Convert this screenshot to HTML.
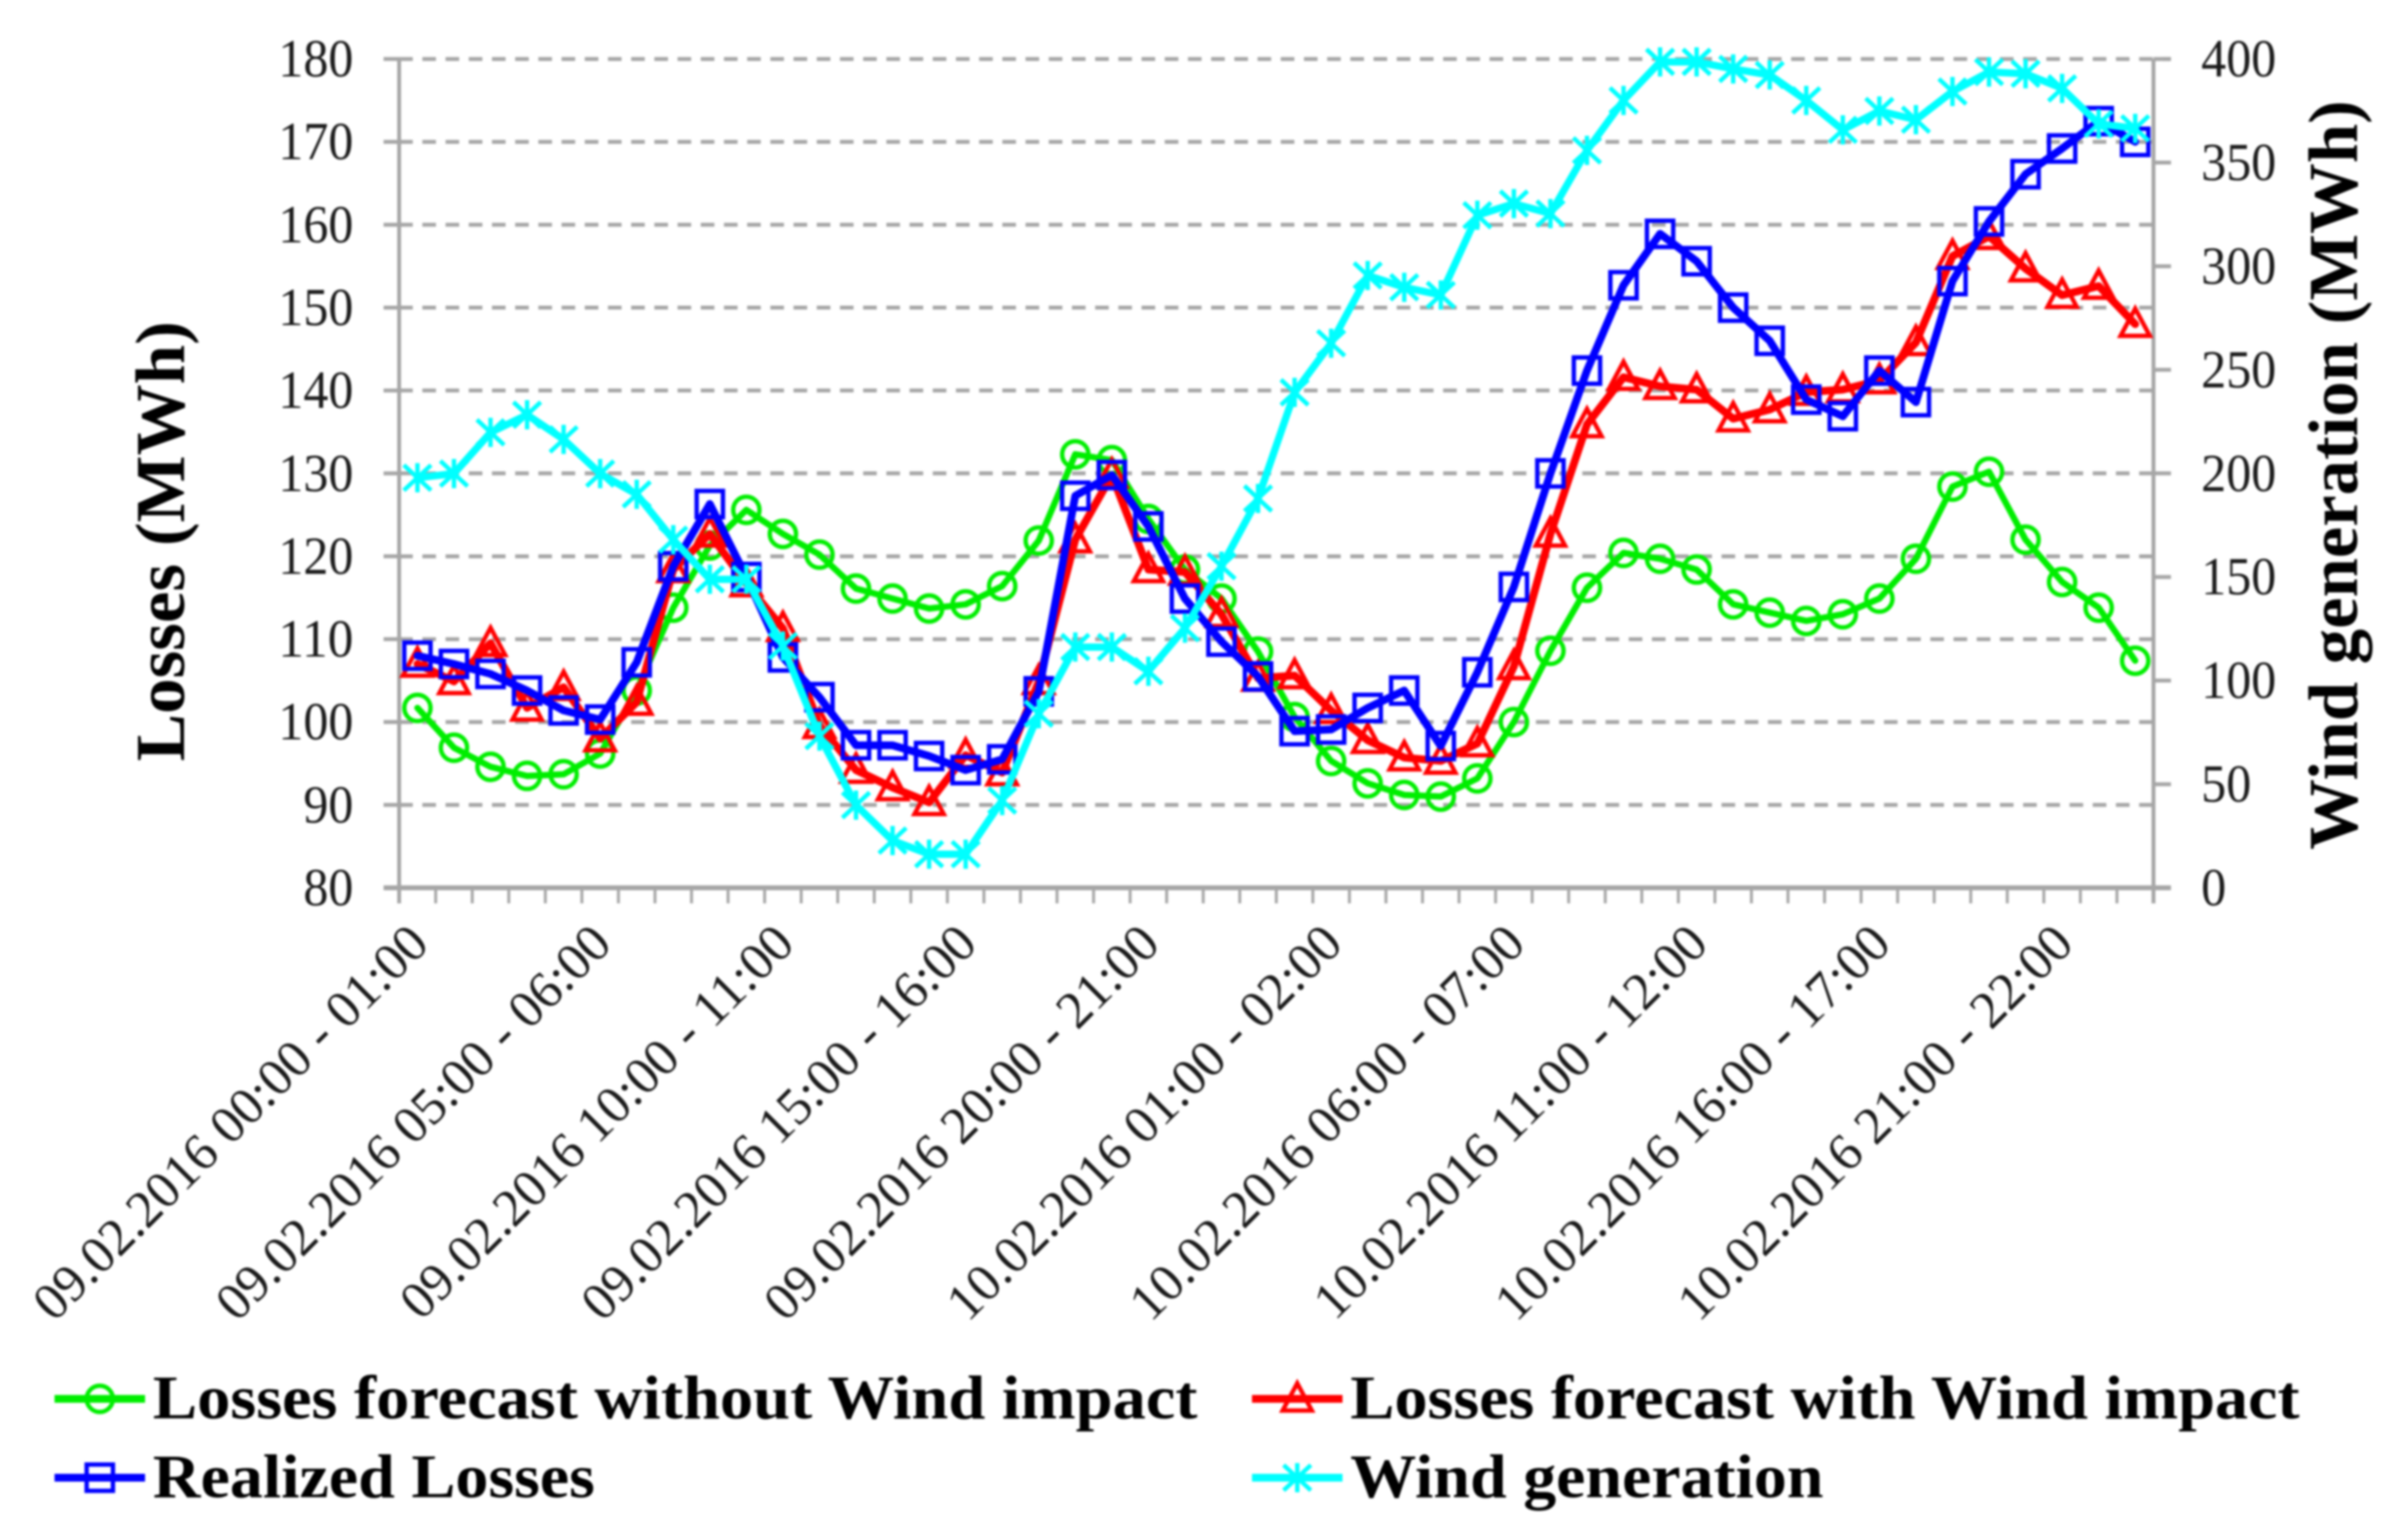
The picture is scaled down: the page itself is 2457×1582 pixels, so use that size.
<!DOCTYPE html>
<html lang="en">
<head>
<meta charset="utf-8">
<title>Losses and wind generation chart</title>
<style>
html,body{margin:0;padding:0;background:#fff;}
body{width:2457px;height:1582px;overflow:hidden;}
#chart{display:block;filter:blur(1.1px);font-family:"Liberation Serif",serif;}
</style>
</head>
<body>
<svg id="chart" xmlns="http://www.w3.org/2000/svg" width="2457" height="1582" viewBox="0 0 2457 1582">
  <rect x="0" y="0" width="2457" height="1582" fill="#ffffff"/>
  <g id="grid"></g>
  <g id="axes"></g>
  <g id="series"></g>
  <g id="labels"></g>
  <text transform="translate(189,556) rotate(-90)" text-anchor="middle" font-size="72" font-weight="bold" fill="#000" textLength="452" lengthAdjust="spacingAndGlyphs">Losses (MWh)</text>
  <text transform="translate(2421,488) rotate(-90)" text-anchor="middle" font-size="72" font-weight="bold" fill="#000" textLength="770" lengthAdjust="spacingAndGlyphs">Wind generation (MWh)</text>
  <g id="legend"></g>
</svg>
<script>
const xTickLabels = ["09.02.2016 00:00 - 01:00","09.02.2016 05:00 - 06:00","09.02.2016 10:00 - 11:00","09.02.2016 15:00 - 16:00","09.02.2016 20:00 - 21:00","10.02.2016 01:00 - 02:00","10.02.2016 06:00 - 07:00","10.02.2016 11:00 - 12:00","10.02.2016 16:00 - 17:00","10.02.2016 21:00 - 22:00"];
const leftTicks = [80,90,100,110,120,130,140,150,160,170,180];
const rightTicks = [0,50,100,150,200,250,300,350,400];
const lossesWithoutWind = [101.7,96.9,94.6,93.5,93.7,96.2,103.8,113.8,121.3,125.6,122.7,120.2,116.1,114.9,113.7,114.2,116.4,121.9,132.3,131.6,124.5,118.4,114.9,108.5,100.6,95.3,92.6,91.2,91.0,93.2,100.0,108.6,116.2,120.4,119.7,118.4,114.2,113.2,112.2,113.0,114.9,119.7,128.4,130.2,122.0,116.9,113.8,107.4];
const lossesWithWind = [107.0,104.9,109.5,101.7,104.2,98.0,102.4,118.4,122.7,116.7,111.3,99.6,94.2,92.1,90.3,96.0,93.9,104.9,122.0,129.8,118.4,118.1,113.0,105.3,105.6,101.4,97.8,95.7,95.3,97.4,106.7,122.7,135.9,141.6,140.5,140.1,136.6,137.7,139.8,140.1,141.2,145.8,156.2,158.6,154.7,151.5,152.6,148.0];
const realizedLosses = [108.0,107.0,105.8,103.8,101.4,100.3,107.2,118.8,126.3,117.5,107.8,103.0,97.2,97.2,95.9,94.2,95.5,103.7,127.3,129.8,123.6,114.9,109.7,105.5,98.9,99.1,101.7,103.8,97.1,106.0,116.3,130.0,142.4,152.7,158.9,155.6,150.0,146.0,138.9,136.9,142.4,138.6,153.2,160.4,166.1,169.2,172.5,170.0];
const windGeneration = [197.9,199.9,219.8,228.3,216.4,199.9,189.9,168.0,148.9,148.9,116.7,73.2,39.9,22.8,16.2,16.2,42.1,84.0,116.2,116.2,104.5,125.3,155.2,187.9,239.1,262.8,295.5,289.8,286.1,324.6,330.2,325.4,355.9,380.0,398.6,398.6,395.2,392.3,380.0,365.8,374.9,370.7,384.3,393.7,392.9,385.8,368.7,366.5];

const plotLeft = 410, plotRight = 2212, plotTop = 60.6, plotBottom = 912;
const leftMin = 80, leftMax = 180, rightMin = 0, rightMax = 400;
const categoryCount = lossesWithoutWind.length;
const labelStep = 5;
const axisColor = "#a6a6a6";
const NS = "http://www.w3.org/2000/svg";

function xScale(i){ return plotLeft + (i + 0.5) * (plotRight - plotLeft) / categoryCount; }
function xEdge(i){ return plotLeft + i * (plotRight - plotLeft) / categoryCount; }
function yLeft(v){ return plotBottom - (v - leftMin) / (leftMax - leftMin) * (plotBottom - plotTop); }
function yRight(v){ return plotBottom - (v - rightMin) / (rightMax - rightMin) * (plotBottom - plotTop); }

function make(tag, attrs, parent){
  const el = document.createElementNS(NS, tag);
  for (const k in attrs) el.setAttribute(k, attrs[k]);
  parent.appendChild(el);
  return el;
}
function seg(x1, y1, x2, y2, extra, parent){
  return make("line", Object.assign({x1:x1, y1:y1, x2:x2, y2:y2, stroke:axisColor, "stroke-width":4}, extra), parent);
}

const gridG = document.getElementById("grid");
const axesG = document.getElementById("axes");
const labelsG = document.getElementById("labels");
const seriesG = document.getElementById("series");
const legendG = document.getElementById("legend");

leftTicks.forEach(function(t){
  const y = yLeft(t);
  if (t !== leftMin) {
    const g = seg(plotLeft, y, t === leftMax ? plotRight + 18 : plotRight, y, {"stroke-dasharray":"14 9.83","stroke-width":4}, gridG);
    
    
  }
  const tick = seg(plotLeft - 16, y, plotLeft, y, {}, axesG);
  
  
  const lab = make("text", {x:363, y:y + 18, "text-anchor":"end", "font-size":55, fill:"#1a1a1a", textLength:String(t).length * 25.7, lengthAdjust:"spacingAndGlyphs"}, labelsG);
  lab.textContent = t;
  
  
});

rightTicks.forEach(function(t){
  const y = yRight(t);
  const tick = seg(plotRight, y, plotRight + 18, y, {}, axesG);
  
  
  const lab = make("text", {x:2261, y:y + 18, "text-anchor":"start", "font-size":55, fill:"#1a1a1a", textLength:String(t).length * 25.7, lengthAdjust:"spacingAndGlyphs"}, labelsG);
  lab.textContent = t;
  
  
});

const leftAxisLine = seg(plotLeft, plotTop, plotLeft, plotBottom + 16, {}, axesG);


const rightAxisLine = seg(plotRight, plotTop, plotRight, plotBottom + 16, {}, axesG);


const bottomAxisLine = seg(plotLeft - 16, plotBottom, plotRight + 18, plotBottom, {"stroke-width":5}, axesG);



for (let i = 0; i <= categoryCount; i++) {
  const x = xEdge(i);
  const tick = seg(x, plotBottom, x, plotBottom + 16, {"stroke-width":3}, axesG);
  
  
}

xTickLabels.forEach(function(label, n){
  const x = xScale(n * labelStep) + 14;
  const lab = make("text", {transform:"translate(" + x + ",972) rotate(-45)", "text-anchor":"end", "font-size":54, fill:"#1a1a1a"}, labelsG);
  lab.textContent = label;
  
  
});

function drawMarker(kind, x, y, color, parent){
  const g = make("g", {fill:"none", stroke:color, "stroke-width":4.5}, parent);
  if (kind === "circle") {
    make("circle", {cx:x, cy:y, r:13.5}, g);
  } else if (kind === "square") {
    make("rect", {x:x - 13.5, y:y - 13.5, width:27, height:27}, g);
  } else if (kind === "triangle") {
    make("polygon", {points:(x) + "," + (y - 16) + " " + (x + 15) + "," + (y + 12) + " " + (x - 15) + "," + (y + 12)}, g);
  } else {
    make("line", {x1:x, y1:y - 15, x2:x, y2:y + 15}, g);
    make("line", {x1:x - 14, y1:y - 13, x2:x + 14, y2:y + 13}, g);
    make("line", {x1:x - 14, y1:y + 13, x2:x + 14, y2:y - 13}, g);
  }
  return g;
}

function drawSeries(values, yFn, color, kind, width, name){
  const g = make("g", {}, seriesG);
  
  
  const pts = values.map(function(v, i){ return xScale(i).toFixed(1) + "," + yFn(v).toFixed(1); }).join(" ");
  const line = make("polyline", {points:pts, fill:"none", stroke:color, "stroke-width":width, "stroke-linejoin":"round", "stroke-linecap":"round"}, g);
  
  
  values.forEach(function(v, i){
    const m = drawMarker(kind, xScale(i), yFn(v), color, g);
    
    
  });
}

drawSeries(lossesWithoutWind, yLeft, "#00ee00", "circle", 6.5, "losses-forecast-without-wind");
drawSeries(lossesWithWind, yLeft, "#ff0000", "triangle", 8, "losses-forecast-with-wind");
drawSeries(realizedLosses, yLeft, "#0000ff", "square", 8, "realized-losses");
drawSeries(windGeneration, yRight, "#00ffff", "star", 7.5, "wind-generation");

function drawLegendEntry(x1, x2, y, textX, textW, color, kind, label, name){
  const g = make("g", {}, legendG);
  
  
  make("line", {x1:x1, y1:y, x2:x2, y2:y, stroke:color, "stroke-width":8}, g);
  drawMarker(kind, (x1 + x2) / 2, y, color, g);
  const t = make("text", {x:textX, y:y + 20, "font-size":64, "font-weight":"bold", fill:"#000", textLength:textW, lengthAdjust:"spacingAndGlyphs"}, g);
  t.textContent = label;
}
drawLegendEntry(56, 149, 1437, 157, 1073, "#00ee00", "circle", "Losses forecast without Wind impact", "legend-entry-without-wind");
drawLegendEntry(1286, 1379, 1437, 1387, 975, "#ff0000", "triangle", "Losses forecast with Wind impact", "legend-entry-with-wind");
drawLegendEntry(56, 149, 1518, 157, 454, "#0000ff", "square", "Realized Losses", "legend-entry-realized");
drawLegendEntry(1286, 1379, 1518, 1387, 486, "#00ffff", "star", "Wind generation", "legend-entry-wind-generation");
</script>
</body>
</html>
